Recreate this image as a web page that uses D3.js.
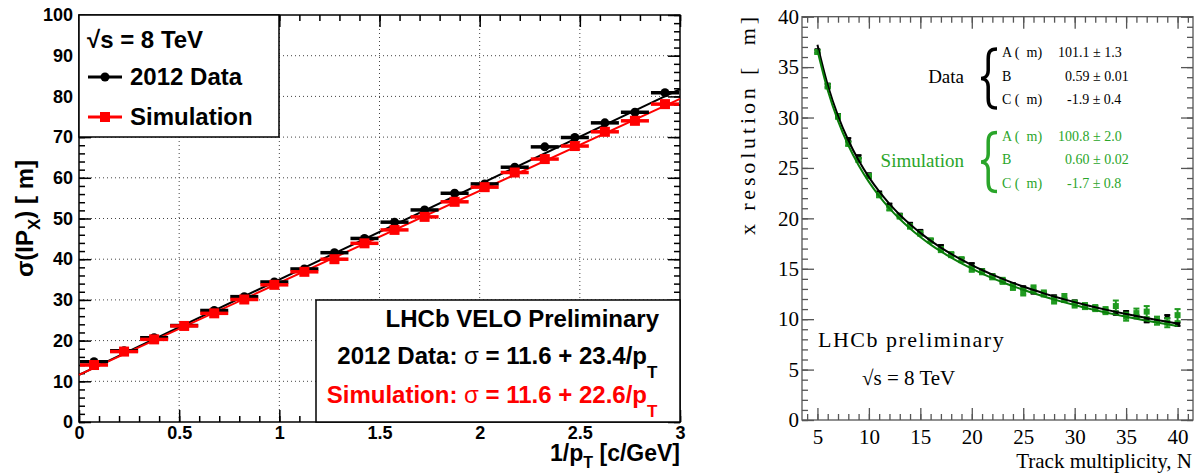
<!DOCTYPE html>
<html>
<head>
<meta charset="utf-8">
<script src="https://cdnjs.cloudflare.com/ajax/libs/d3/7.8.5/d3.min.js"></script>
<style>
  body { margin: 0; background: #fff; }
  svg { display: block; }
  .sans { font-family: "Liberation Sans", Arial, Helvetica, sans-serif; font-weight: bold; }
  .serif { font-family: "Liberation Serif", "Times New Roman", serif; }
</style>
</head>
<body>
<div id="chart"></div>
<script>
// ---- left panel: IP resolution vs 1/pT ----
var invPt = [0.075, 0.225, 0.375, 0.525, 0.675, 0.825, 0.975, 1.125, 1.275, 1.425,
             1.575, 1.725, 1.875, 2.025, 2.175, 2.325, 2.475, 2.625, 2.775, 2.925];
var ipData = [14.8, 17.5, 20.7, 23.7, 27.4, 30.8, 34.4, 37.6, 41.6, 45.1,
              49.1, 52.1, 56.2, 58.5, 62.6, 67.6, 69.9, 73.5, 76.1, 80.9];
var ipSim = [14.0, 17.3, 20.3, 23.6, 26.7, 30.1, 33.7, 36.9, 40.0, 43.9,
             47.2, 50.4, 54.1, 57.7, 61.3, 64.6, 67.8, 71.3, 74.0, 78.1];
var binHalf = 0.07;
var lineNames = ['2012 Data', 'Simulation'];
var lineIntercept = [11.6, 11.6];
var lineSlope = [23.4, 22.6];
var lineColors = ['#000000', '#ff0000'];
var leftXTicks = [0, 0.5, 1, 1.5, 2, 2.5, 3];
var leftYTicks = [0, 10, 20, 30, 40, 50, 60, 70, 80, 90, 100];

// ---- right panel: resolution vs track multiplicity ----
var nTracks = [5, 6, 7, 8, 9, 10, 11, 12, 13, 14, 15, 16, 17, 18, 19, 20, 21, 22,
               23, 24, 25, 26, 27, 28, 29, 30, 31, 32, 33, 34, 35, 36, 37, 38, 39, 40];
var resData = [36.6, 33.2, 30.2, 27.8, 26.1, 24.3, 22.5, 21.3, 20.3, 19.4, 18.7, 17.8,
               17.2, 16.4, 15.9, 15.4, 14.8, 14.3, 13.8, 13.4, 13.1, 12.7, 12.5, 12.2,
               11.9, 11.7, 11.3, 11.1, 10.8, 10.6, 10.65, 10.25, 9.85, 9.9, 10.25, 9.5];
var resDataErr = [0.15, 0.15, 0.15, 0.15, 0.15, 0.15, 0.15, 0.15, 0.15, 0.15, 0.15, 0.15,
                  0.15, 0.15, 0.15, 0.15, 0.15, 0.15, 0.15, 0.15, 0.15, 0.15, 0.15, 0.15,
                  0.15, 0.15, 0.15, 0.15, 0.15, 0.15, 0.15, 0.15, 0.15, 0.15, 0.15, 0.15];
var resSim = [36.5, 33.1, 30.1, 27.4, 25.8, 24.2, 22.3, 21.0, 20.2, 19.2, 18.5, 17.8,
              16.9, 16.4, 15.9, 15.0, 14.7, 14.2, 13.8, 13.2, 12.7, 13.0, 12.55, 11.9,
              12.1, 11.5, 11.3, 11.1, 10.85, 11.3, 10.25, 10.6, 10.75, 9.85, 9.65, 10.4];
var resSimErr = [0.2, 0.2, 0.2, 0.2, 0.2, 0.2, 0.2, 0.2, 0.2, 0.2, 0.2, 0.2,
                 0.25, 0.25, 0.25, 0.3, 0.25, 0.25, 0.3, 0.3, 0.35, 0.35, 0.3, 0.35,
                 0.4, 0.35, 0.3, 0.3, 0.35, 0.55, 0.4, 0.45, 0.55, 0.4, 0.45, 0.6];
// fit: A / N^B + C
var fitA = [101.1, 100.8];
var fitAErr = [1.3, 2.0];
var fitB = [0.59, 0.60];
var fitBErr = [0.01, 0.02];
var fitC = [-1.9, -1.7];
var fitCErr = [0.4, 0.8];
var rightColors = ['#000000', '#1f9a1f'];
var rightXTicks = [5, 10, 15, 20, 25, 30, 35, 40];
var rightYTicks = [0, 5, 10, 15, 20, 25, 30, 35, 40];

var W = 1197, H = 476;
var svg = d3.select('#chart').append('svg')
  .attr('width', W).attr('height', H);
svg.append('rect').attr('width', W).attr('height', H).attr('fill', '#fff');

// draws inward ticks on all four sides of a frame
function frameTicks(g, x, y, xMajor, xMinor, yMajor, yMinor, color, width) {
  var r = x.range(), t = y.range();
  var sides = [
    [d3.axisBottom(x), 'translate(0,' + t[0] + ')', xMajor, xMinor],
    [d3.axisTop(x), 'translate(0,' + t[1] + ')', xMajor, xMinor],
    [d3.axisLeft(y), 'translate(' + r[0] + ',0)', yMajor, yMinor],
    [d3.axisRight(y), 'translate(' + r[1] + ',0)', yMajor, yMinor]
  ];
  sides.forEach(function (s) {
    [[s[3], -6], [s[2], -12]].forEach(function (m) {
      var ax = s[0].tickValues(m[0]).tickSize(m[1]).tickFormat('');
      var a = g.append('g').attr('transform', s[1]).call(ax);
      a.select('.domain').remove();
      a.selectAll('line').attr('stroke', color).attr('stroke-width', width);
    });
  });
  g.append('rect')
    .attr('x', r[0]).attr('y', t[1])
    .attr('width', r[1] - r[0]).attr('height', t[0] - t[1])
    .attr('fill', 'none').attr('stroke', color).attr('stroke-width', width);
}

// ================= LEFT =================
var xL = d3.scaleLinear().domain([0, 3]).range([79, 680]);
var yL = d3.scaleLinear().domain([0, 100]).range([422, 15]);
var gL = svg.append('g');

// dotted grid
gL.append('g').selectAll('line').data(leftXTicks.slice(1, -1)).join('line')
  .attr('x1', function (d) { return xL(d); }).attr('x2', function (d) { return xL(d); })
  .attr('y1', yL(0)).attr('y2', yL(100))
  .attr('stroke', '#444').attr('stroke-dasharray', '1,3');
gL.append('g').selectAll('line').data(leftYTicks.slice(1, -1)).join('line')
  .attr('y1', function (d) { return yL(d); }).attr('y2', function (d) { return yL(d); })
  .attr('x1', xL(0)).attr('x2', xL(3))
  .attr('stroke', '#444').attr('stroke-dasharray', '1,3');

frameTicks(gL, xL, yL, leftXTicks, d3.range(0, 3.01, 0.1), leftYTicks, d3.range(0, 101, 2), '#000', 1.5);

// tick labels
var axLx = gL.append('g').attr('class', 'sans').attr('transform', 'translate(0,422)')
  .call(d3.axisBottom(xL).tickValues(leftXTicks).tickSize(0).tickPadding(4).tickFormat(d3.format('~g')));
axLx.select('.domain').remove();
axLx.selectAll('text').attr('font-size', 18).attr('fill', '#000').attr('font-family', null);
var axLy = gL.append('g').attr('class', 'sans').attr('transform', 'translate(79,0)')
  .call(d3.axisLeft(yL).tickValues(leftYTicks).tickSize(0).tickPadding(6));
axLy.select('.domain').remove();
axLy.selectAll('text').attr('font-size', 18).attr('fill', '#000').attr('font-family', null);

// fit lines
lineIntercept.forEach(function (a, i) {
  gL.append('line')
    .attr('x1', xL(0)).attr('y1', yL(a))
    .attr('x2', xL(3)).attr('y2', yL(a + lineSlope[i] * 3))
    .attr('stroke', lineColors[i]).attr('stroke-width', 2);
});

// points with horizontal bin errors
[ipData, ipSim].forEach(function (vals, i) {
  var g = gL.append('g');
  g.selectAll('line').data(vals).join('line')
    .attr('x1', function (d, j) { return xL(invPt[j] - binHalf); })
    .attr('x2', function (d, j) { return xL(invPt[j] + binHalf); })
    .attr('y1', function (d) { return yL(d); }).attr('y2', function (d) { return yL(d); })
    .attr('stroke', lineColors[i]).attr('stroke-width', 3.5);
  if (i === 0) {
    g.selectAll('circle').data(vals).join('circle')
      .attr('cx', function (d, j) { return xL(invPt[j]); })
      .attr('cy', function (d) { return yL(d); })
      .attr('r', 4.5).attr('fill', lineColors[i]);
  } else {
    g.selectAll('rect').data(vals).join('rect')
      .attr('x', function (d, j) { return xL(invPt[j]) - 5; })
      .attr('y', function (d) { return yL(d) - 5; })
      .attr('width', 10).attr('height', 10).attr('fill', lineColors[i]);
  }
});

// legend box
gL.append('rect').attr('x', 79).attr('y', 15).attr('width', 200).attr('height', 122)
  .attr('fill', '#fff').attr('stroke', '#000').attr('stroke-width', 1.5);
gL.append('text').attr('class', 'sans').attr('x', 87).attr('y', 48)
  .attr('font-size', 24).text('\u221As = 8 TeV');
lineNames.forEach(function (name, i) {
  var yy = 77 + i * 40;
  gL.append('line').attr('x1', 88).attr('x2', 122).attr('y1', yy).attr('y2', yy)
    .attr('stroke', lineColors[i]).attr('stroke-width', 3);
  if (i === 0) {
    gL.append('circle').attr('cx', 105).attr('cy', yy).attr('r', 4.5).attr('fill', lineColors[i]);
  } else {
    gL.append('rect').attr('x', 100).attr('y', yy - 5).attr('width', 10).attr('height', 10)
      .attr('fill', lineColors[i]);
  }
  gL.append('text').attr('class', 'sans').attr('x', 130).attr('y', yy + 8)
    .attr('font-size', 24).text(name);
});

// result box
gL.append('rect').attr('x', 316).attr('y', 300).attr('width', 364).attr('height', 122)
  .attr('fill', '#fff').attr('stroke', '#000').attr('stroke-width', 1.5);
gL.append('text').attr('class', 'sans').attr('x', 659).attr('y', 327)
  .attr('text-anchor', 'end').attr('font-size', 24).text('LHCb VELO Preliminary');
lineNames.forEach(function (name, i) {
  var t = gL.append('text').attr('class', 'sans').attr('x', 647).attr('y', 364 + i * 39)
    .attr('text-anchor', 'end').attr('font-size', 24).attr('fill', lineColors[i]);
  t.append('tspan').text(name + ': ');
  t.append('tspan').attr('font-weight', 'normal').text('\u03C3');
  t.append('tspan').text(' = ' + lineIntercept[i] + ' + ' + lineSlope[i] + '/p');
  gL.append('text').attr('class', 'sans').attr('x', 647).attr('y', 378 + i * 39)
    .attr('font-size', 17).attr('fill', lineColors[i]).text('T');
});

// axis titles
var xt = gL.append('text').attr('class', 'sans').attr('x', 680).attr('y', 461)
  .attr('text-anchor', 'end').attr('font-size', 23);
xt.append('tspan').text('1/p');
xt.append('tspan').attr('font-size', 16).attr('dy', 7).text('T');
xt.append('tspan').attr('dy', -7).text(' [c/GeV]');
var yt = gL.append('text').attr('class', 'sans')
  .attr('transform', 'translate(33,160) rotate(-90)')
  .attr('text-anchor', 'end').attr('font-size', 24);
yt.append('tspan').text('\u03C3(IP');
yt.append('tspan').attr('font-size', 17).attr('dy', 7).text('X');
yt.append('tspan').attr('dy', -7).text(')  [  m]');

// ================= RIGHT =================
var xR = d3.scaleLinear().domain([3.5, 41.5]).range([802, 1193]);
var yR = d3.scaleLinear().domain([0, 40]).range([420, 16.7]);
var gR = svg.append('g');

frameTicks(gR, xR, yR, rightXTicks, d3.range(4, 42, 1), rightYTicks, d3.range(0, 41, 1), '#555', 1.3);

var axRx = gR.append('g').attr('class', 'serif').attr('transform', 'translate(0,420)')
  .call(d3.axisBottom(xR).tickValues(rightXTicks).tickSize(0).tickPadding(9));
axRx.select('.domain').remove();
axRx.selectAll('text').attr('font-size', 21).attr('fill', '#000').attr('font-family', null);
var axRy = gR.append('g').attr('class', 'serif').attr('transform', 'translate(802,0)')
  .call(d3.axisLeft(yR).tickValues(rightYTicks).tickSize(0).tickPadding(3));
axRy.select('.domain').remove();
axRy.selectAll('text').attr('font-size', 21).attr('fill', '#000').attr('font-family', null);

// points
[[resData, resDataErr, 5], [resSim, resSimErr, 6]].forEach(function (s, i) {
  var g = gR.append('g').attr('stroke', rightColors[i]).attr('fill', rightColors[i]);
  var pts = g.selectAll('g').data(s[0]).join('g')
    .attr('transform', function (d, j) { return 'translate(' + xR(nTracks[j]) + ',0)'; });
  pts.append('line')
    .attr('y1', function (d, j) { return yR(d - s[1][j]); })
    .attr('y2', function (d, j) { return yR(d + s[1][j]); })
    .attr('stroke-width', 2);
  [-1, 1].forEach(function (sg) {
    pts.append('line').attr('x1', -3).attr('x2', 3)
      .attr('y1', function (d, j) { return yR(d + sg * s[1][j]); })
      .attr('y2', function (d, j) { return yR(d + sg * s[1][j]); })
      .attr('stroke-width', 2);
  });
  pts.append('rect').attr('stroke', 'none')
    .attr('x', -s[2] / 2).attr('width', s[2]).attr('height', s[2])
    .attr('y', function (d) { return yR(d) - s[2] / 2; });
});

// fit curves
var curveLine = d3.line().curve(d3.curveMonotoneX)
  .x(function (d) { return xR(d[0]); }).y(function (d) { return yR(d[1]); });
fitA.forEach(function (a, i) {
  var pts = nTracks.map(function (n) { return [n, a / Math.pow(n, fitB[i]) + fitC[i]]; });
  gR.append('path').attr('d', curveLine(pts)).attr('fill', 'none')
    .attr('stroke', i === 0 ? '#000' : '#0a7d0a').attr('stroke-width', 2);
});

// fit parameter legend
function brace(x, y0, y1, color) {
  var m = (y0 + y1) / 2, w = 16, c = x + w * 0.45;
  var d = 'M' + (x + w) + ',' + y0 +
    'C' + (c + 1) + ',' + y0 + ' ' + c + ',' + (y0 + 4) + ' ' + c + ',' + (y0 + 10) +
    'L' + c + ',' + (m - 8) +
    'C' + c + ',' + (m - 2) + ' ' + (x + 3) + ',' + m + ' ' + x + ',' + m +
    'C' + (x + 3) + ',' + m + ' ' + c + ',' + (m + 2) + ' ' + c + ',' + (m + 8) +
    'L' + c + ',' + (y1 - 10) +
    'C' + c + ',' + (y1 - 4) + ' ' + (c + 1) + ',' + y1 + ' ' + (x + w) + ',' + y1;
  gR.append('path').attr('d', d).attr('fill', 'none')
    .attr('stroke', color).attr('stroke-width', 3.5);
}
var parLabels = ['A (  m)', 'B', 'C (  m)'];
var parX = [1058, 1065, 1067];
var legColors = ['#000', '#2aa52a'];
[0, 1].forEach(function (i) {
  var top = 57 + i * 83.5;
  gR.append('text').attr('class', 'serif').attr('x', 964).attr('y', top + 26)
    .attr('text-anchor', 'end').attr('font-size', 19).attr('fill', legColors[i])
    .text(i === 0 ? 'Data' : 'Simulation');
  brace(981, top - 8, top + 51, legColors[i]);
  var vals = [
    fitA[i].toFixed(1) + ' \u00B1 ' + fitAErr[i].toFixed(1),
    fitB[i].toFixed(2) + ' \u00B1 ' + fitBErr[i].toFixed(2),
    fitC[i].toFixed(1) + ' \u00B1 ' + fitCErr[i].toFixed(1)
  ];
  parLabels.forEach(function (lab, k) {
    var yy = top + k * 23.7;
    gR.append('text').attr('class', 'serif').attr('x', 1002).attr('y', yy)
      .attr('font-size', 14).attr('fill', legColors[i]).attr('xml:space', 'preserve').text(lab);
    gR.append('text').attr('class', 'serif').attr('x', parX[k]).attr('y', yy)
      .attr('font-size', 14).attr('fill', legColors[i]).text(vals[k]);
  });
});

gR.append('text').attr('class', 'serif').attr('x', 818).attr('y', 347)
  .attr('font-size', 22).attr('letter-spacing', 1.5).text('LHCb preliminary');
gR.append('text').attr('class', 'serif').attr('x', 862).attr('y', 385)
  .attr('font-size', 21).text('\u221As = 8 TeV');

gR.append('text').attr('class', 'serif').attr('x', 1192).attr('y', 468)
  .attr('text-anchor', 'end').attr('font-size', 21).text('Track multiplicity, N');
gR.append('text').attr('class', 'serif')
  .attr('transform', 'translate(755,17) rotate(-90)')
  .attr('text-anchor', 'end').attr('font-size', 22).attr('xml:space', 'preserve')
  .attr('textLength', 218).attr('lengthAdjust', 'spacing')
  .text('x resolution [  m]');
</script>
</body>
</html>
